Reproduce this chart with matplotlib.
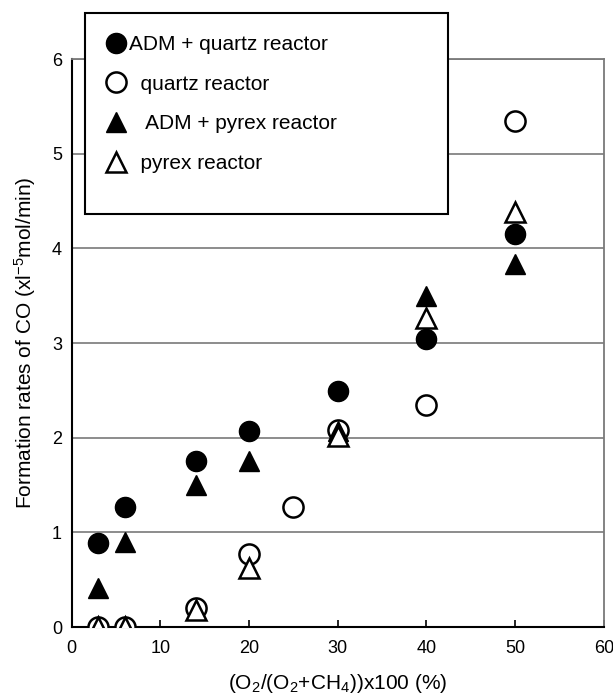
import matplotlib
matplotlib.use("Agg")
import matplotlib.pyplot as plt
from matplotlib.patches import Rectangle

plt.rcParams['font.family'] = ['Liberation Sans', 'DejaVu Sans']
plt.rcParams['mathtext.fontset'] = 'custom'
plt.rcParams['mathtext.rm'] = 'Liberation Sans'
plt.rcParams['mathtext.it'] = 'Liberation Sans:italic'

# O2 ratio (%) and CO formation rates (x10^-5 mol/min)
x_adm_quartz = [3, 6, 14, 20, 30, 40, 50]
y_adm_quartz = [0.89, 1.27, 1.75, 2.07, 2.49, 3.04, 4.15]

x_quartz = [3, 6, 14, 20, 25, 30, 40, 50]
y_quartz = [0.0, 0.0, 0.20, 0.77, 1.27, 2.08, 2.35, 5.35]

x_adm_pyrex = [3, 6, 14, 20, 30, 40, 50]
y_adm_pyrex = [0.41, 0.90, 1.50, 1.75, 2.07, 3.50, 3.84]

x_pyrex = [3, 6, 14, 20, 30, 40, 50]
y_pyrex = [0.0, 0.0, 0.18, 0.62, 2.02, 3.27, 4.39]

labels = ["ADM + quartz reactor", "  quartz reactor",
          "   ADM + pyrex reactor", "  pyrex reactor"]

fig = plt.figure(figsize=(6.13, 6.96), dpi=100)
ax = fig.add_axes([0.117, 0.099, 0.868, 0.816])

ms = 14.5
h1, = ax.plot(x_adm_quartz, y_adm_quartz, 'o', ms=ms, color='black', zorder=3)
h2, = ax.plot(x_quartz, y_quartz, 'o', ms=ms, mfc='white', mec='black', mew=1.8, zorder=3)
h3, = ax.plot(x_adm_pyrex, y_adm_pyrex, '^', ms=ms, color='black', zorder=3)
h4, = ax.plot(x_pyrex, y_pyrex, '^', ms=ms, mfc='white', mec='black', mew=1.8, zorder=3)

ax.set_xlim(0, 60)
ax.set_ylim(0, 6)
ax.set_xticks(range(0, 61, 10))
ax.set_yticks(range(0, 7))
ax.yaxis.grid(True, color='#6e6e6e', lw=1.1)
ax.set_axisbelow(True)
ax.tick_params(axis='x', direction='in', length=5, width=1.2, pad=9, labelsize=13)
ax.tick_params(axis='y', length=0, pad=7, labelsize=13)
for s in ['left', 'bottom']:
    ax.spines[s].set_color('black')
    ax.spines[s].set_linewidth(1.5)
for s in ['top', 'right']:
    ax.spines[s].set_color('#7a7a7a')
    ax.spines[s].set_linewidth(1.3)

ax.set_xlabel("(O$_2$/(O$_2$+CH$_4$))x100 (%)", fontsize=15, labelpad=11)
ax.set_ylabel("Formation rates of CO (xl$^{-5}$mol/min)", fontsize=15, labelpad=10)

box = Rectangle((0.1387, 0.6925), 0.592, 0.2888, transform=fig.transFigure,
                facecolor='white', edgecolor='black', lw=1.5)
fig.add_artist(box)

fig.legend([h1, h2, h3, h4], labels, loc='upper left',
           bbox_to_anchor=(103 / 613, 0.950), bbox_transform=fig.transFigure,
           frameon=False, fontsize=15, borderpad=0, borderaxespad=0,
           handlelength=1.2, handletextpad=0.05, labelspacing=1.0)

fig.savefig("out.png", dpi=100)
